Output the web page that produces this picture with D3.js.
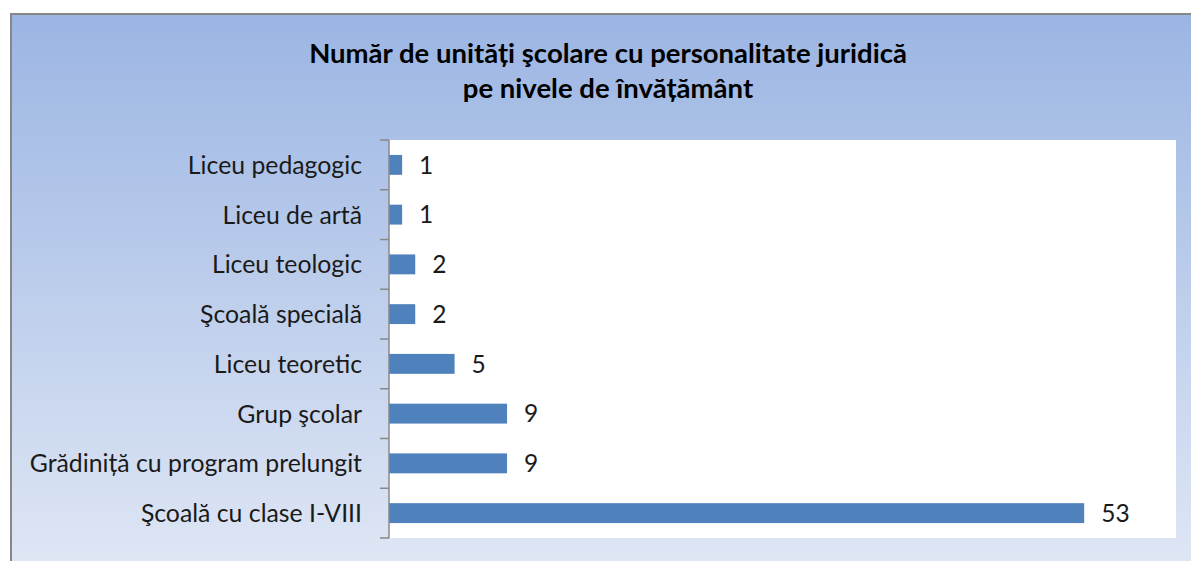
<!DOCTYPE html>
<html>
<head>
<meta charset="utf-8">
<script src="https://cdn.jsdelivr.net/npm/d3@7"></script>
<style>
  body { margin: 0; background: #fff; }
  text { font-family: Lato, "Open Sans", sans-serif; }
</style>
</head>
<body>
<script>
// Chart data - number of school units by education level
var categories = [
  "Liceu pedagogic",
  "Liceu de artă",
  "Liceu teologic",
  "Şcoală specială",
  "Liceu teoretic",
  "Grup şcolar",
  "Grădiniță cu program prelungit",
  "Şcoală cu clase I-VIII"
];
var values = [1, 1, 2, 2, 5, 9, 9, 53];
var titleLines = [
  "Număr de unități şcolare cu personalitate juridică",
  "pe nivele de învățământ"
];

var width = 1191,
    height = 561;

var svg = d3.select("body")
  .append("svg")
  .attr("width", width)
  .attr("height", height);

// background gradient of the chart frame
var grad = svg.append("defs").append("linearGradient")
  .attr("id", "bg")
  .attr("x1", 0).attr("y1", 0).attr("x2", 0).attr("y2", 1);
grad.append("stop").attr("offset", "0%").attr("stop-color", "#9bb5e3");
grad.append("stop").attr("offset", "100%").attr("stop-color", "#e1e8f5");

svg.append("rect")
  .attr("x", 11).attr("y", 14)
  .attr("width", 1200).attr("height", 570)
  .attr("fill", "url(#bg)")
  .attr("stroke", "#878787")
  .attr("stroke-width", 2);

// plot area
var plot = { left: 389, top: 140, right: 1176, bottom: 538 };

svg.append("rect")
  .attr("x", plot.left).attr("y", plot.top)
  .attr("width", plot.right - plot.left)
  .attr("height", plot.bottom - plot.top)
  .attr("fill", "#fff");

var x = d3.scaleLinear()
  .domain([0, 60])
  .range([plot.left, plot.right]);

var y = d3.scaleBand()
  .domain(categories)
  .range([plot.top, plot.bottom])
  .paddingInner(0.6)
  .paddingOuter(0.3);

// bars
svg.selectAll("rect.bar")
  .data(values)
  .enter().append("rect")
  .attr("class", "bar")
  .attr("x", x(0))
  .attr("y", function(d, i) { return y(categories[i]); })
  .attr("width", function(d) { return x(d) - x(0); })
  .attr("height", y.bandwidth())
  .attr("fill", "#4f81bd");

// value labels
svg.selectAll("text.val")
  .data(values)
  .enter().append("text")
  .attr("class", "val")
  .attr("x", function(d) { return x(d) + 17; })
  .attr("y", function(d, i) { return y(categories[i]) + y.bandwidth() / 2; })
  .attr("dy", "0.36em")
  .attr("font-size", 24.5)
  .attr("fill", "#1a1a1a")
  .text(function(d) { return d; });

// category axis: ticks sit on the band boundaries
var boundaries = d3.range(categories.length + 1).map(function(i) {
  return plot.top + i * (plot.bottom - plot.top) / categories.length;
});

var axis = svg.append("g").attr("class", "axis");
axis.append("line")
  .attr("x1", plot.left).attr("x2", plot.left)
  .attr("y1", plot.top).attr("y2", plot.bottom)
  .attr("stroke", "#888").attr("stroke-width", 1.5);
axis.selectAll("line.tick")
  .data(boundaries)
  .enter().append("line")
  .attr("class", "tick")
  .attr("x1", plot.left - 9).attr("x2", plot.left)
  .attr("y1", function(d) { return d; })
  .attr("y2", function(d) { return d; })
  .attr("stroke", "#888").attr("stroke-width", 1.5);

axis.selectAll("text.cat")
  .data(categories)
  .enter().append("text")
  .attr("class", "cat")
  .attr("x", 362)
  .attr("y", function(d) { return y(d) + y.bandwidth() / 2; })
  .attr("dy", "0.36em")
  .attr("text-anchor", "end")
  .attr("font-size", 24.8)
  .attr("fill", "#1a1a1a")
  .text(function(d) { return d; });

// title
svg.selectAll("text.title")
  .data(titleLines)
  .enter().append("text")
  .attr("class", "title")
  .attr("x", 608)
  .attr("y", function(d, i) { return 63 + i * 35; })
  .attr("text-anchor", "middle")
  .attr("font-size", 27.5)
  .attr("font-weight", "bold")
  .attr("fill", "#000")
  .text(function(d) { return d; });
</script>
</body>
</html>
